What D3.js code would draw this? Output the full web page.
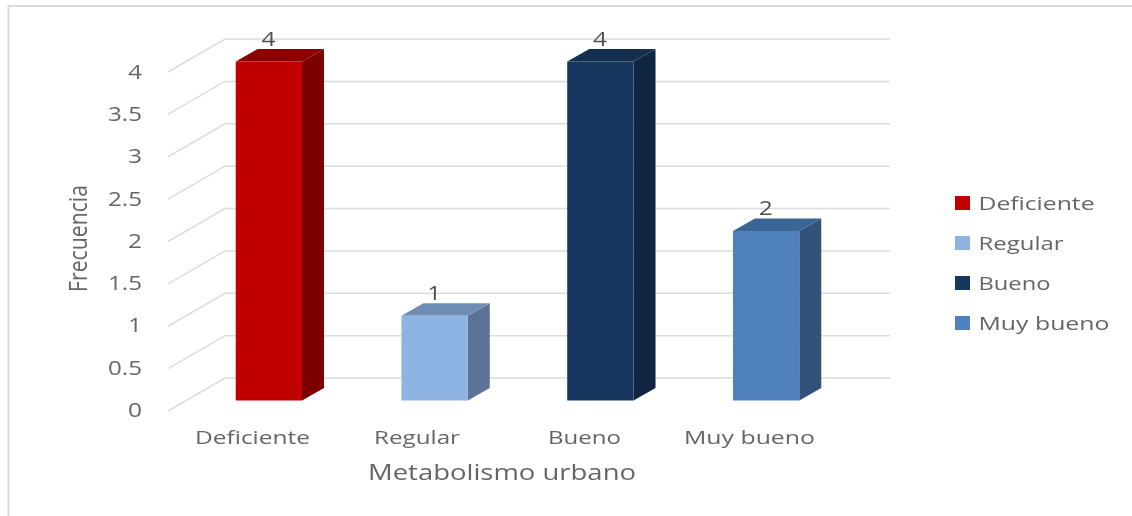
<!DOCTYPE html>
<html>
<head>
<meta charset="utf-8">
<script src="https://cdn.jsdelivr.net/npm/d3@7"></script>
<style>
  html, body { margin: 0; padding: 0; background: #fff; }
  svg { display: block; filter: blur(0.4px); }
  text { font-family: "Open Sans", sans-serif; fill: #666; }
</style>
</head>
<body>
<svg id="chart" width="1132" height="516"></svg>
<script>
// ===== Data =====
const categories = ['Deficiente', 'Regular', 'Bueno', 'Muy bueno'];
const frecuencia = [4, 1, 4, 2];
const yTicks = [0, 0.5, 1, 1.5, 2, 2.5, 3, 3.5, 4];

// front, side and top face of each bar
const frontColors = ['#c00000', '#8db4e2', '#17375e', '#4f81bd'];
const sideColors  = ['#7d0000', '#5b7394', '#0f2540', '#32527a'];
const topColors   = ['#8c0000', '#6f8db4', '#15304f', '#3b6595'];

// measured text widths, the original text is stretched sideways
const catWidths    = [115, 86, 73, 131];
const legendWidths = [116, 85, 72, 131];

const svg = d3.select('#chart');

// depth of the fake 3D box
const depthX = 22;
const depthY = -12.5;

const y = d3.scaleLinear().domain([0, 4]).range([400.5, 61.5]);
const x = d3.scaleBand().domain(categories).range([186, 849]).paddingInner(0.6).paddingOuter(0.3);
const legendY = d3.scalePoint().domain(categories).range([203, 323]);

// ===== Outer frame =====
svg.append('path')
    .attr('d', d3.line()([[8.5, 516], [8.5, 6], [1132, 6]]))
    .attr('fill', 'none')
    .attr('stroke', '#d9d9d9')
    .attr('stroke-width', 2);

// ===== Gridlines: back wall + diagonal on the side wall =====
const grid = svg.append('g').attr('fill', 'none').attr('stroke', '#dcdcdc').attr('stroke-width', 1.5);
yTicks.forEach(t => {
    const backY = y(t) + depthY * 1.8;
    grid.append('path')
        .attr('d', d3.line()([[168, backY + 33], [225, backY], [890, backY]]));
});

// ===== Tick labels =====
const yAxis = svg.append('g')
    .attr('transform', 'translate(142,0)')
    .call(d3.axisLeft(y.copy().range([410, 72])).tickValues(yTicks).tickFormat(d3.format('~g')).tickSize(0).tickPadding(0));
yAxis.select('.domain').remove();
yAxis.selectAll('text')
    .style('font-size', '20px')
    .attr('fill', null)
    .attr('textLength', t => Number.isInteger(t) ? 14 : 34)
    .attr('lengthAdjust', 'spacingAndGlyphs');

// ===== Bars =====
const bars = svg.selectAll('g.bar')
    .data(categories)
    .join('g')
    .attr('class', 'bar');

bars.each(function(c, i) {
    const el = d3.select(this);
    const x0 = x(c);
    const x1 = x0 + x.bandwidth();
    const yTop = y(frecuencia[i]);
    const yBase = y(0);

    // side face
    el.append('path')
        .attr('d', d3.line()([[x1, yTop], [x1 + depthX, yTop + depthY], [x1 + depthX, yBase + depthY], [x1, yBase]]) + 'Z')
        .attr('fill', sideColors[i]);

    // top face
    el.append('path')
        .attr('d', d3.line()([[x0, yTop], [x0 + depthX, yTop + depthY], [x1 + depthX, yTop + depthY], [x1, yTop]]) + 'Z')
        .attr('fill', topColors[i]);

    // front face
    el.append('rect')
        .attr('x', x0).attr('y', yTop)
        .attr('width', x.bandwidth()).attr('height', yBase - yTop)
        .attr('fill', frontColors[i]);

    // value label
    el.append('text')
        .attr('x', x0 + x.bandwidth() / 2 - 0.5)
        .attr('y', yTop - 16)
        .attr('text-anchor', 'middle')
        .attr('textLength', 14)
        .attr('lengthAdjust', 'spacingAndGlyphs')
        .style('font-size', '20px')
        .style('fill', '#505050')
        .text(frecuencia[i]);
});

// ===== Category labels =====
svg.selectAll('text.cat')
    .data(categories)
    .join('text')
    .attr('class', 'cat')
    .attr('x', (c, i) => [252.5, 417, 584.5, 749.5][i])
    .attr('y', 444)
    .attr('text-anchor', 'middle')
    .attr('textLength', (c, i) => catWidths[i])
    .attr('lengthAdjust', 'spacingAndGlyphs')
    .style('font-size', '19px')
    .text(c => c);

// ===== Axis titles =====
svg.append('text')
    .attr('x', 502).attr('y', 480)
    .attr('text-anchor', 'middle')
    .attr('textLength', 268)
    .attr('lengthAdjust', 'spacingAndGlyphs')
    .style('font-size', '21px')
    .text('Metabolismo urbano');

svg.append('text')
    .attr('transform', 'translate(87,238.5) rotate(-90)')
    .attr('text-anchor', 'middle')
    .attr('textLength', 107)
    .attr('lengthAdjust', 'spacingAndGlyphs')
    .style('font-size', '26px')
    .text('Frecuencia');

// ===== Legend =====
const legend = svg.selectAll('g.legend')
    .data(categories)
    .join('g')
    .attr('class', 'legend')
    .attr('transform', c => `translate(955,${legendY(c)})`);

legend.append('rect')
    .attr('x', 0).attr('y', -7)
    .attr('width', 15).attr('height', 14)
    .attr('fill', (c, i) => frontColors[i]);

legend.append('text')
    .attr('x', 23.5).attr('y', 7)
    .attr('textLength', (c, i) => legendWidths[i])
    .attr('lengthAdjust', 'spacingAndGlyphs')
    .style('font-size', '19px')
    .text(c => c);
</script>
</body>
</html>
